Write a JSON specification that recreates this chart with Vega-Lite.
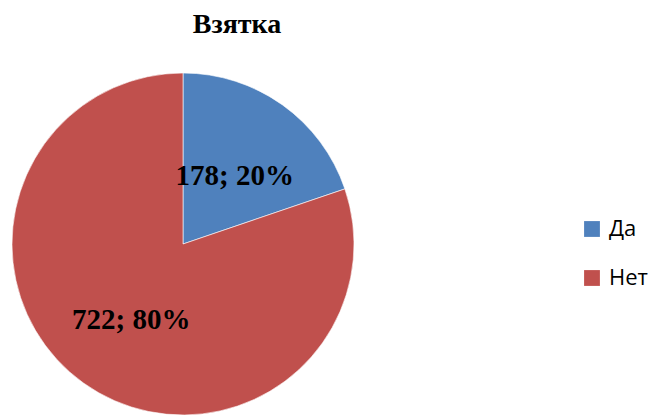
{
  "$schema": "https://vega.github.io/schema/vega-lite/v6.json",
  "width": 366,
  "height": 342,
  "autosize": "none",
  "padding": {"left": 0, "top": 73, "right": 285, "bottom": 0},
  "background": "white",
  "title": {
    "text": "Взятка",
    "font": "Liberation Serif",
    "fontSize": 28,
    "fontWeight": "bold",
    "color": "black",
    "dx": 54,
    "offset": 33
  },
  "data": {
    "values": [
      {"answer": "Да", "count": 178, "label": "178; 20%", "order": 1},
      {"answer": "Нет", "count": 722, "label": "722; 80%", "order": 2}
    ]
  },
  "encoding": {
    "theta": {"field": "count", "type": "quantitative", "stack": true},
    "order": {"field": "order", "type": "quantitative"},
    "color": {
      "field": "answer",
      "type": "nominal",
      "scale": {"domain": ["Да", "Нет"], "range": ["#4F81BD", "#C0504D"]},
      "legend": {
        "title": null,
        "orient": "none",
        "legendX": 581,
        "legendY": 145,
        "symbolType": "square",
        "symbolSize": 250,
        "symbolStrokeWidth": 0,
        "labelFont": "Open Sans",
        "labelFontSize": 22,
        "labelColor": "black",
        "labelOffset": 6,
        "rowPadding": 27
      }
    }
  },
  "layer": [
    {
      "mark": {"type": "arc", "outerRadius": 171, "stroke": "white", "strokeWidth": 0.6}
    },
    {
      "mark": {"type": "text", "radius": 89, "dy": 4, "font": "Liberation Serif", "fontSize": 29, "fontWeight": "bold", "color": "black", "align": "center", "baseline": "middle"},
      "encoding": {
        "text": {"field": "label"},
        "color": {"value": "black"}
      }
    }
  ]
}
